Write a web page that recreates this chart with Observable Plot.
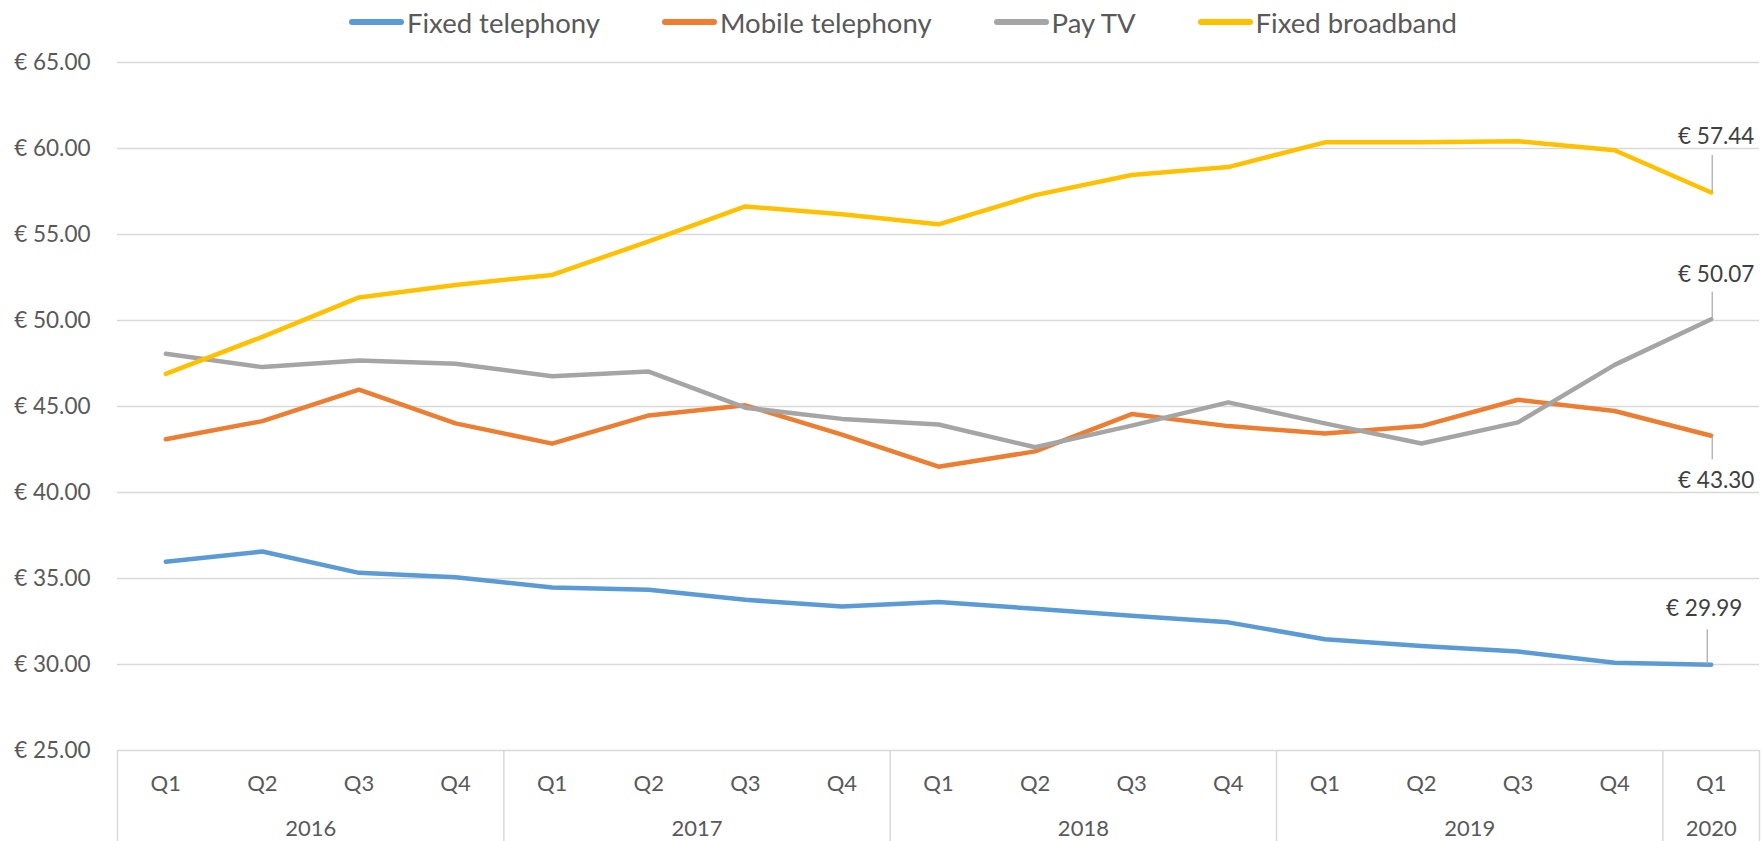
<!DOCTYPE html>
<html><head><meta charset="utf-8">
<script src="https://cdn.jsdelivr.net/npm/d3@7"></script>
<script src="https://cdn.jsdelivr.net/npm/@observablehq/plot@0.6"></script>
<style>
html,body{margin:0;padding:0;background:#fff;}
body{width:1762px;height:841px;overflow:hidden;font-family:Lato, "Open Sans", sans-serif;}
#legend{height:42px;display:flex;justify-content:center;align-items:center;padding-left:44px;padding-top:2px;gap:62px;box-sizing:border-box;}
.item{display:flex;align-items:center;font-size:27.5px;color:#595959;white-space:nowrap;}
.sw{width:55px;height:6px;border-radius:3px;margin-right:3px;}
#chart svg{display:block;overflow:hidden;}
</style></head><body>
<div id="legend"></div>
<div id="chart"></div>
<script>
// ---- data ----
const years = ["2016","2016","2016","2016","2017","2017","2017","2017","2018","2018","2018","2018","2019","2019","2019","2019","2020"];
const quarters = ["Q1","Q2","Q3","Q4","Q1","Q2","Q3","Q4","Q1","Q2","Q3","Q4","Q1","Q2","Q3","Q4","Q1"];
const seriesNames = ["Fixed telephony","Mobile telephony","Pay TV","Fixed broadband"];
const seriesColors = ["#5B9BD5","#ED7D31","#A5A5A5","#FFC000"];
const fixedTelephony  = [35.98,36.57,35.33,35.07,34.48,34.35,33.76,33.37,33.63,33.24,32.84,32.45,31.47,31.08,30.75,30.10,29.99];
const mobileTelephony = [43.10,44.15,45.98,44.02,42.84,44.48,45.07,43.37,41.50,42.39,44.56,43.86,43.43,43.86,45.39,44.74,43.30];
const payTV           = [48.07,47.29,47.68,47.48,46.76,47.03,44.93,44.28,43.95,42.63,43.89,45.24,44.02,42.85,44.08,47.42,50.07];
const fixedBroadband  = [46.90,49.05,51.34,52.06,52.65,54.60,56.63,56.18,55.59,57.29,58.46,58.92,60.36,60.36,60.42,59.90,57.44];
const yTicks = [25,30,35,40,45,50,55,60,65];

// label placement styles (pixels) for the end-of-line data labels
const labelStyle = {
  "Fixed broadband": {dx: 5, dy: -56, leadUp: 37, leadDown: 0, leadDx: 1},
  "Pay TV":          {dx: 5, dy: -44, leadUp: 27, leadDown: 0, leadDx: 1},
  "Mobile telephony":{dx: 5, dy: 45, leadUp: 0, leadDown: 24, leadDx: 1},
  "Fixed telephony": {dx: -7, dy: -56, leadUp: 35, leadDown: 0, leadDx: -4}
};

// ---- build table ----
const seriesValues = [fixedTelephony, mobileTelephony, payTV, fixedBroadband];
const n = quarters.length;
const table = [];
seriesNames.forEach((name, s) => {
  seriesValues[s].forEach((v, i) => table.push({series: name, i, value: v}));
});
const lastPts = seriesNames.map((name, s) => ({series: name, i: n - 1, value: seriesValues[s][n - 1]}));
const qTicks = quarters.map((q, i) => ({i, label: q}));
const yearGroups = d3.groups(years.map((y, i) => ({y, i})), d => d.y)
  .map(([y, arr]) => ({label: y, i: d3.mean(arr, d => d.i), start: arr[0].i}));
const boundaries = yearGroups.map(g => g.start - 0.5).concat([n - 0.5]);

// ---- legend ----
const legend = document.getElementById("legend");
seriesNames.forEach((name, s) => {
  const it = document.createElement("div");
  it.className = "item";
  it.innerHTML = `<span class="sw" style="background:${seriesColors[s]}"></span><span>${name}</span>`;
  legend.appendChild(it);
});

// ---- chart ----
const fmt = v => "€ " + v.toFixed(2);
const yMin = yTicks[0];

const labelMarks = [];
lastPts.forEach(p => {
  const st = labelStyle[p.series];
  labelMarks.push(Plot.ruleX([p], {x: "i", y1: "value", y2: "value", insetTop: -st.leadUp, insetBottom: -st.leadDown, dx: st.leadDx, stroke: "#A6A6A6", strokeWidth: 1.2}));
  labelMarks.push(Plot.text([p], {x: "i", y: "value", text: d => fmt(d.value), dx: st.dx, dy: st.dy, fontSize: 22.5, fill: "#404040"}));
});

const chart = Plot.plot({
  width: 1762,
  height: 799,
  marginTop: 20,
  marginBottom: 91,
  marginLeft: 117,
  marginRight: 3,
  style: {fontFamily: "Lato, 'Open Sans', sans-serif", background: "white", overflow: "hidden"},
  x: {domain: [-0.5, n - 0.5], axis: null},
  y: {domain: [yTicks[0], yTicks[yTicks.length - 1]], axis: null},
  color: {domain: seriesNames, range: seriesColors},
  marks: [
    Plot.ruleY(yTicks, {stroke: "#D9D9D9", strokeWidth: 1.5}),
    Plot.ruleX(boundaries, {x: d => d, y1: yMin, y2: yMin - 5.5, stroke: "#D9D9D9", strokeWidth: 1.5}),
    Plot.axisY(yTicks, {tickSize: 0, tickPadding: 27, tickFormat: fmt, fontSize: 22.5, color: "#595959", label: null}),
    Plot.text(qTicks, {x: "i", y: () => yMin, text: "label", dy: 33, fontSize: 22, fill: "#595959"}),
    Plot.text(yearGroups, {x: "i", y: () => yMin, text: "label", dy: 78, fontSize: 22, fill: "#595959"}),
    Plot.line(table, {x: "i", y: "value", stroke: "series", strokeWidth: 4.5, strokeLinejoin: "round", strokeLinecap: "round"}),
    ...labelMarks
  ]
});
document.getElementById("chart").appendChild(chart);
</script>
</body></html>
